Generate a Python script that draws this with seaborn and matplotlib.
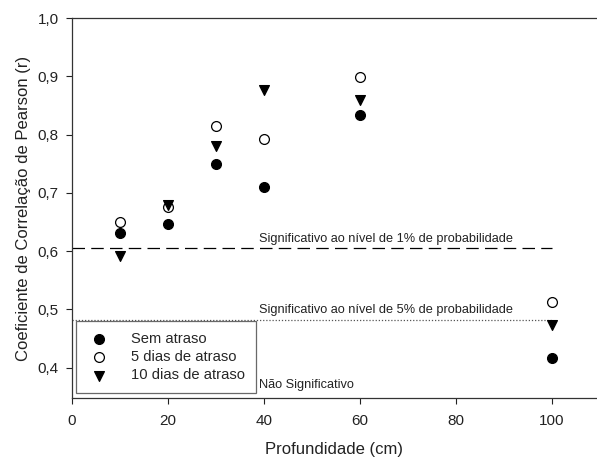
import matplotlib
matplotlib.use("Agg")
import matplotlib.pyplot as plt
import seaborn as sns
import pandas as pd
from matplotlib.ticker import FuncFormatter

depth = [10, 20, 30, 40, 60, 100]
sem_atraso = [0.631, 0.647, 0.750, 0.710, 0.834, 0.417]
cinco_dias = [0.650, 0.676, 0.815, 0.792, 0.899, 0.513]
dez_dias = [0.592, 0.679, 0.780, 0.877, 0.859, 0.473]
series_names = ["Sem atraso", "5 dias de atraso", "10 dias de atraso"]
sig1 = 0.605
sig5 = 0.482

sns.set_theme(style="ticks")
plt.rcParams['font.family'] = ['Liberation Sans', 'DejaVu Sans']

df = pd.DataFrame({
    "depth": depth * 3,
    "r": sem_atraso + cinco_dias + dez_dias,
    "serie": [series_names[0]] * 6 + [series_names[1]] * 6 + [series_names[2]] * 6,
})

fig = plt.figure(figsize=(5.97, 4.57), dpi=100)
ax = fig.add_axes([0.1206, 0.129, 0.8794, 0.8316])

styles = {
    series_names[0]: dict(marker="o", facecolor="black", edgecolor="black"),
    series_names[1]: dict(marker="o", facecolor="white", edgecolor="black"),
    series_names[2]: dict(marker="v", facecolor="black", edgecolor="black"),
}
for name in series_names:
    sub = df[df["serie"] == name]
    st = styles[name]
    sns.scatterplot(data=sub, x="depth", y="r", ax=ax, marker=st["marker"],
                    color=st["facecolor"], edgecolor=st["edgecolor"],
                    linewidth=0.9, s=50, label=name, zorder=3)

ax.plot([0, 100], [sig1, sig1], color="black", linestyle=(0, (10, 5)), linewidth=0.9)
ax.plot([0, 100], [sig5, sig5], color="#555555", linestyle=(0, (1, 1.5)), linewidth=0.9)

ax.text(38.9, sig1 + 0.006, "Significativo ao nível de 1% de probabilidade",
        fontsize=9.2, va="bottom", ha="left", color="#222222")
ax.text(38.9, sig5 + 0.006, "Significativo ao nível de 5% de probabilidade",
        fontsize=9.2, va="bottom", ha="left", color="#222222")
ax.text(38.9, 0.371, "Não Significativo", fontsize=9.2, va="center", ha="left", color="#222222")

ax.set_xlim(0, 109.4)
ax.set_ylim(0.348, 1.0)
ax.set_xticks([0, 20, 40, 60, 80, 100])
ax.set_yticks([0.4, 0.5, 0.6, 0.7, 0.8, 0.9, 1.0])
ax.yaxis.set_major_formatter(FuncFormatter(lambda v, p: f"{v:.1f}".replace(".", ",")))
ax.tick_params(axis="both", direction="out", length=4.5, width=0.8, labelsize=11, colors="#222222")
ax.tick_params(axis="x", pad=7)
ax.tick_params(axis="y", pad=5)
ax.tick_params(top=False, right=False)

for side in ["left", "bottom", "top"]:
    ax.spines[side].set_color("#333333")
    ax.spines[side].set_linewidth(0.9)
ax.spines["right"].set_visible(False)

ax.set_xlabel("Profundidade (cm)", fontsize=12, color="#222222", labelpad=10)
ax.set_ylabel("Coeficiente de Correlação de Pearson (r)", fontsize=12, color="#222222", labelpad=5)

leg = ax.legend(loc="lower left", bbox_to_anchor=(0.008, 0.012), fontsize=10.6,
                frameon=True, fancybox=False, edgecolor="#444444",
                borderpad=0.75, handletextpad=1.4, labelspacing=0.3, borderaxespad=0,
                handlelength=1.6)
leg.get_frame().set_linewidth(0.9)

fig.savefig("out.png", dpi=100)
